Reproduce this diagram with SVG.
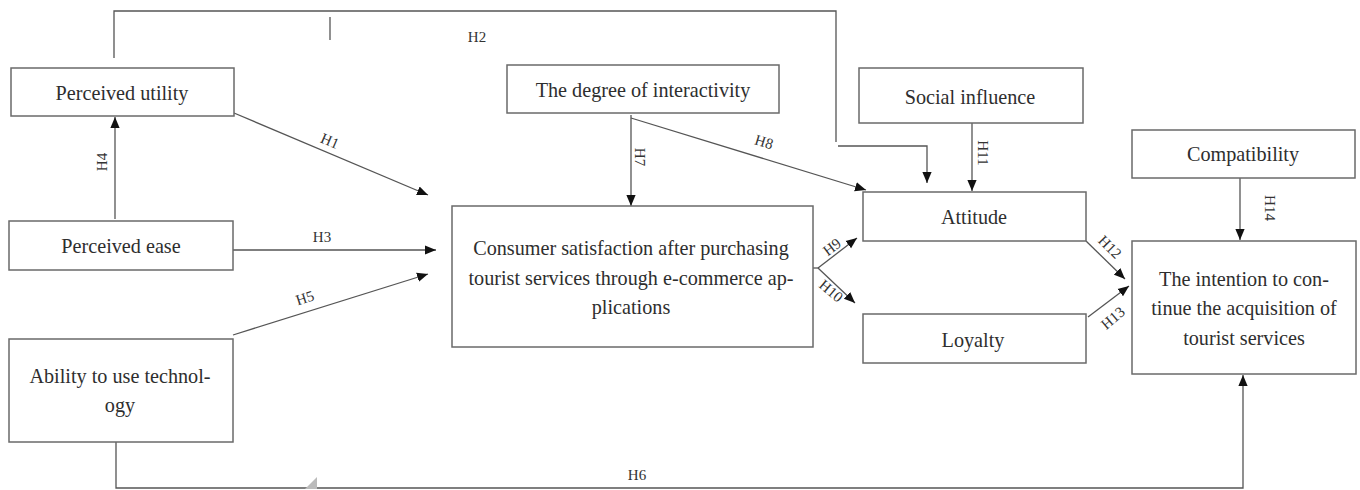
<svg xmlns="http://www.w3.org/2000/svg" width="1360" height="490" viewBox="0 0 1360 490">
<style>
.box{fill:#fff;stroke:#6a6a6a;stroke-width:1.5}
.t{font-family:"Liberation Serif","Times New Roman",serif;font-size:20.2px;fill:#2e2e2e;text-anchor:middle}
.h{font-family:"Liberation Serif","Times New Roman",serif;font-size:15px;fill:#333;text-anchor:middle;dominant-baseline:central}
.c{fill:none;stroke:#555;stroke-width:1.3}
.a{fill:none;stroke:#555;stroke-width:1.3;marker-end:url(#arr)}
</style>
<defs>
<marker id="arr" viewBox="0 0 10 10" refX="10" refY="5" markerWidth="11" markerHeight="11" markerUnits="userSpaceOnUse" orient="auto">
<path d="M0,0.8 L10,5 L0,9.2 Z" fill="#111"/>
</marker>
</defs>
<rect width="1360" height="490" fill="#fff"/>
<g id="connectors">
<polyline class="c" points="114,58 114,11 836,11 836,142"/>
<line class="c" x1="330" y1="17" x2="330" y2="40"/>
<polyline class="a" points="838,146 927,146 927,183"/>
<line class="a" x1="115" y1="219" x2="115" y2="117"/>
<line class="a" x1="234" y1="113" x2="428" y2="195"/>
<line class="a" x1="231" y1="250" x2="436" y2="250"/>
<line class="a" x1="233" y1="335" x2="428" y2="274"/>
<polyline class="a" points="116,442 116,488 1243,488 1243,375"/>
<line class="a" x1="631" y1="115" x2="631" y2="206"/>
<line class="a" x1="631" y1="118" x2="866" y2="190"/>
<line class="a" x1="972" y1="123" x2="972" y2="191"/>
<line class="a" x1="1240" y1="178" x2="1240" y2="240"/>
<line class="a" x1="1086" y1="241" x2="1125" y2="279"/>
<line class="a" x1="1088" y1="317" x2="1129" y2="286"/>
<line class="c" x1="813" y1="268" x2="818" y2="268"/>
<line class="a" x1="818" y1="268" x2="857" y2="238"/>
<line class="a" x1="818" y1="268" x2="855" y2="303"/>
<polygon points="305,489 317,477 317,489" fill="#bbb"/>
<text class="h" x="477" y="37">H2</text>
<text class="h" transform="translate(330,141) rotate(23)">H1</text>
<text class="h" transform="translate(102,162) rotate(-90)">H4</text>
<text class="h" x="322" y="237">H3</text>
<text class="h" transform="translate(305,298) rotate(-18)">H5</text>
<text class="h" x="637" y="475">H6</text>
<text class="h" transform="translate(640,157) rotate(90)">H7</text>
<text class="h" transform="translate(764,142) rotate(17)">H8</text>
<text class="h" transform="translate(832,247) rotate(-37)">H9</text>
<text class="h" transform="translate(831,291) rotate(40)">H10</text>
<text class="h" transform="translate(983,153) rotate(90)">H11</text>
<text class="h" transform="translate(1110,247) rotate(45)">H12</text>
<text class="h" transform="translate(1113,318) rotate(-40)">H13</text>
<text class="h" transform="translate(1270,208) rotate(90)">H14</text>
</g>
<g id="perceived-utility">
<rect class="box" x="11" y="68" width="223" height="48"/>
<text class="t" x="122" y="100">Perceived utility</text>
</g>
<g id="perceived-ease">
<rect class="box" x="9" y="221" width="224" height="49"/>
<text class="t" x="121" y="253">Perceived ease</text>
</g>
<g id="ability">
<rect class="box" x="9" y="339" width="224" height="103"/>
<text class="t" x="120" y="383">Ability to use technol-</text>
<text class="t" x="120" y="412">ogy</text>
</g>
<g id="interactivity">
<rect class="box" x="507" y="65" width="272" height="48"/>
<text class="t" x="643" y="97">The degree of interactivity</text>
</g>
<g id="satisfaction">
<rect class="box" x="452" y="206" width="361" height="141"/>
<text class="t" x="631" y="255">Consumer satisfaction after purchasing</text>
<text class="t" x="631" y="285">tourist services through e-commerce ap-</text>
<text class="t" x="631" y="314">plications</text>
</g>
<g id="social-influence">
<rect class="box" x="859" y="68" width="224" height="55"/>
<text class="t" x="970" y="104">Social influence</text>
</g>
<g id="attitude">
<rect class="box" x="863" y="192" width="223" height="49"/>
<text class="t" x="974" y="224">Attitude</text>
</g>
<g id="loyalty">
<rect class="box" x="863" y="314" width="223" height="49"/>
<text class="t" x="973" y="347">Loyalty</text>
</g>
<g id="compatibility">
<rect class="box" x="1132" y="130" width="223" height="48"/>
<text class="t" x="1243" y="161">Compatibility</text>
</g>
<g id="intention">
<rect class="box" x="1132" y="241" width="224" height="133"/>
<text class="t" x="1244" y="286">The intention to con-</text>
<text class="t" x="1244" y="315">tinue the acquisition of</text>
<text class="t" x="1244" y="345">tourist services</text>
</g>
</svg>
